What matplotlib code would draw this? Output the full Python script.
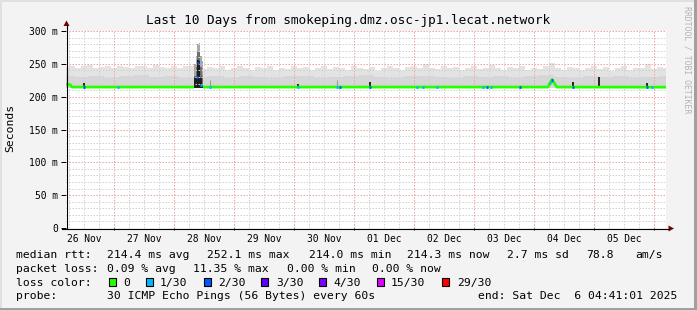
import numpy as np
import matplotlib
matplotlib.use('Agg')
import matplotlib.pyplot as plt
from matplotlib.patches import Rectangle, Polygon
from matplotlib.lines import Line2D

W, H = 697, 310
MONO = 'DejaVu Sans Mono'

# ---------------- data ----------------
# time axis: days since 26 Nov 00:00
t_start, t_end = 0.195, 10.195
day_labels = ['26 Nov', '27 Nov', '28 Nov', '29 Nov', '30 Nov',
              '01 Dec', '02 Dec', '03 Dec', '04 Dec', '05 Dec']
day_label_pos = [0.5, 1.5, 2.5, 3.5, 4.5, 5.5, 6.5, 7.5, 8.5, 9.5]
day_lines = [1, 2, 3, 4, 5, 6, 7, 8, 9, 10]
y_ticks = [0, 50, 100, 150, 200, 250, 300]
y_tick_labels = ['0', '50 m', '100 m', '150 m', '200 m', '250 m', '300 m']

# smoke (ms): max ping per sample
smoke_t = np.round(np.arange(0.2, 10.21, 0.1), 2)
smoke_max = [245, 247, 244, 246, 248, 243, 245, 247, 244, 246,
             245, 243, 247, 246, 244, 248, 245, 243, 246, 244,
             247, 246, 245, 242, 245, 244, 246, 241, 243, 246,
             244, 240, 245, 243, 246, 241, 244, 242, 247, 243,
             245, 240, 244, 246, 242, 245, 243, 241, 246, 244,
             242, 245, 239, 243, 246, 244, 241, 245, 247, 243,
             249, 244, 242, 246, 243, 245, 240, 244, 246, 242,
             244, 248, 243, 241, 245, 243, 246, 240, 244, 242,
             247, 252, 244, 241, 245, 243, 240, 244, 246, 242,
             245, 239, 243, 246, 241, 244, 243, 249, 242, 245,
             243]
smoke_mid_t = np.round(np.arange(0.2, 10.21, 0.25), 2)
smoke_mid = [231, 230, 232, 229, 231, 233, 230, 231, 229, 230,
             232, 229, 231, 230, 228, 231, 232, 229, 230, 231,
             233, 230, 229, 231, 232, 230, 228, 231, 230, 232,
             229, 231, 233, 230, 229, 231, 230, 232, 229, 230,
             231]
smoke_min = 213.0

# latency spike on 28 Nov
spike_t = [2.328, 2.345, 2.362, 2.378, 2.395, 2.412, 2.428, 2.445, 2.462, 2.478]
spike_max = [240, 250, 262, 268, 280, 281, 272, 262, 255, 246]
spike_mid = [226, 232, 245, 250, 268, 270, 258, 245, 232, 222]
spike_dark = [214, 228, 230, 238, 256, 255, 240, 228, 220, 214]

# median rtt (nan = gap)
median_t = [0.195, 0.262, 0.279, 0.295, 2.328, 2.34, 2.462, 2.478,
            8.228, 8.262, 8.295, 8.33, 8.378, 10.195]
median_v = [218.5, 218.5, 216.5, 214.6, 214.6, np.nan, np.nan, 214.6,
            214.6, 221, 226, 221, 214.6, 214.4]

# median samples with packet loss (level index into loss colours)
loss_t = [0.495, 1.067, 2.378, 2.395, 2.44, 2.595, 4.067, 4.707, 4.762,
          5.262, 6.04, 6.145, 6.373, 7.15, 7.207, 7.273, 7.762, 8.262,
          8.295, 8.65, 9.873, 9.957]
loss_v = [214.6, 214.6, 230, 252, 218, 214.6, 214.6, 214.6, 214.6,
          214.6, 214.6, 214.6, 214.6, 214.6, 214.6, 214.6, 214.6, 221,
          226, 214.6, 214.6, 214.6]
loss_level = [2, 1, 2, 2, 1, 1, 1, 1, 2, 2, 1, 1, 1, 1, 2, 1, 2, 1, 2, 2, 2, 1]

# dense smoke marks near the median
dark_t = [0.495, 4.067, 5.262, 8.30, 8.65, 9.08, 9.873]
dark_lo = [215, 215, 215, 221, 215, 216, 215]
dark_hi = [221, 220, 222, 226, 222, 230, 221]
gray_t = [2.595, 4.705]
gray_hi = [226, 225]

loss_names = ['0', '1/30', '2/30', '3/30', '4/30', '15/30', '29/30']
loss_colors = ['#26ff00', '#00b8ff', '#0059ff', '#5e00ff', '#7e00ff', '#dd00ff', '#ff0000']

# ---------------- figure ----------------
def fx(x):
    return x / W

def fy(y):
    return 1 - y / H

fig = plt.figure(figsize=(W / 100, H / 100), dpi=100)
fig.patch.set_facecolor('#f3f3f3')

ax = fig.add_axes([fx(66), fy(228), 600 / W, 197 / H])
ax.set_facecolor('white')
ax.set_xlim(t_start, t_end)
ax.set_ylim(0, 300)
for s in ax.spines.values():
    s.set_visible(False)

# grid
dots = (0, (1.5, 1.5))
for t in np.arange(0.25, 10.2, 0.25):
    if abs(t - round(t)) > 1e-6:
        ax.axvline(t, color='#d2d2d2', lw=0.72, ls=dots, zorder=2.5)
for v in range(10, 300, 10):
    if v % 50:
        ax.axhline(v, color='#d2d2d2', lw=0.72, ls=dots, zorder=2.5)
for t in day_lines:
    ax.axvline(t, color='#f5a3a3', lw=0.72, ls=dots, zorder=2.6)
for v in y_ticks[1:]:
    ax.axhline(v, color='#f5a3a3', lw=0.72, ls=dots, zorder=2.6)

# smoke
ax.fill_between(smoke_t, smoke_min, smoke_max, step='mid', color='#e3e3e3', lw=0, zorder=1)
ax.fill_between(smoke_mid_t, smoke_min, smoke_mid, step='mid', color='#d7d7d7', lw=0, zorder=1.1)
ax.fill_between(spike_t, smoke_min, spike_max, step='mid', color='#a8a8a8', lw=0, zorder=1.5)
ax.fill_between(spike_t, smoke_min, spike_mid, step='mid', color='#6e6e6e', lw=0, zorder=1.55)
ax.fill_between(spike_t, smoke_min, spike_dark, step='mid', color='#1e1e1e', lw=0, zorder=1.6)
ax.vlines(dark_t, dark_lo, dark_hi, color='#222222', lw=1.4, zorder=3)
ax.vlines(gray_t, 215, gray_hi, color='#9a9a9a', lw=0.8, zorder=3)

# median
ax.plot(median_t, median_v, color=loss_colors[0], lw=2.0, solid_capstyle='butt', zorder=4)
for t, v, lv in zip(loss_t, loss_v, loss_level):
    ax.plot([t - 0.014, t + 0.014], [v, v], color=loss_colors[lv], lw=2.0,
            solid_capstyle='butt', zorder=5)

# ticks
ax.set_xticks(day_label_pos)
ax.set_xticklabels(day_labels, fontfamily=MONO, fontsize=6.9)
ax.tick_params(axis='x', length=0, pad=4.5)
ax.set_yticks(y_ticks)
ax.set_yticklabels(y_tick_labels, fontfamily=MONO, fontsize=6.9)
ax.tick_params(axis='y', length=3.6, width=0.72, pad=2.0, color='black')
# day ticks below axis
ax.vlines(day_lines, -0.012, 0, transform=ax.get_xaxis_transform(),
          color='black', lw=0.72, clip_on=False)

# axes lines with arrows
fig.add_artist(Line2D([fx(66.5), fx(66.5)], [fy(228.5), fy(25)], color='black', lw=0.8))
fig.add_artist(Line2D([fx(62), fx(669)], [fy(228.5), fy(228.5)], color='black', lw=0.8))
fig.add_artist(Polygon([[fx(63.5), fy(26)], [fx(69.5), fy(26)], [fx(66.5), fy(20.5)]],
                       closed=True, color='#7a0000', lw=0))
fig.add_artist(Polygon([[fx(668.5), fy(225.5)], [fx(668.5), fy(231.5)], [fx(674), fy(228.5)]],
                       closed=True, color='#7a0000', lw=0))

# title and labels
fig.text(fx(348), fy(24), 'Last 10 Days from smokeping.dmz.osc-jp1.lecat.network',
         ha='center', va='baseline', fontfamily=MONO, fontsize=9.2)
fig.text(fx(10.5), fy(128), 'Seconds', rotation=90, ha='center', va='center',
         fontfamily=MONO, fontsize=8.2)
fig.text(fx(687), fy(60), 'RRDTOOL / TOBI OETIKER', rotation=270, ha='center', va='center',
         fontfamily=MONO, fontsize=5.9, color='#b4b4b4')

# legend
LF = 8.2
def ltext(x, yb, s):
    fig.text(fx(x), fy(yb), s, ha='left', va='baseline', fontfamily=MONO, fontsize=LF)

y1, y2, y3, y4 = 258.3, 272.0, 285.7, 299.4
ltext(16, y1, 'median rtt:')
ltext(107.3, y1, '214.4 ms avg')
ltext(207.3, y1, '252.1 ms max')
ltext(309.3, y1, '214.0 ms min')
ltext(406.7, y1, '214.3 ms now')
ltext(507.3, y1, '2.7 ms sd')
ltext(586, y1, '78.8')
ltext(635, y1, 'am/s')

ltext(16, y2, 'packet loss:')
ltext(107.3, y2, '0.09 % avg')
ltext(193.3, y2, '11.35 % max')
ltext(287.0, y2, '0.00 % min')
ltext(372.3, y2, '0.00 % now')

ltext(16, y3, 'loss color:')
box_x = [108.7, 145.7, 203.7, 260.7, 319.0, 376.5, 441.7]
text_x = [123.3, 160.0, 218.3, 276.0, 333.0, 391.0, 456.7]
for bx, tx, name, col in zip(box_x, text_x, loss_names, loss_colors):
    fig.add_artist(Rectangle((fx(bx), fy(286.3)), 7 / W, 8.5 / H, facecolor=col,
                             edgecolor='black', lw=0.8))
    ltext(tx, y3, name)

ltext(16, y4, 'probe:')
ltext(107.3, y4, '30 ICMP Echo Pings (56 Bytes) every 60s')
ltext(478.3, y4, 'end: Sat Dec  6 04:41:01 2025')

# 3D frame
fig.add_artist(Rectangle((0, 0), 1, 2 / H, color='#a0a0a0', lw=0))
fig.add_artist(Rectangle((1 - 3 / W, 0), 3 / W, 1, color='#a0a0a0', lw=0))
fig.add_artist(Rectangle((0, 1 - 2 / H), 1 - 3 / W, 2 / H, color='#e0e0e0', lw=0))
fig.add_artist(Rectangle((0, 2 / H), 2 / W, 1 - 4 / H, color='#e0e0e0', lw=0))

fig.savefig('out.png', dpi=100, facecolor=fig.get_facecolor())
